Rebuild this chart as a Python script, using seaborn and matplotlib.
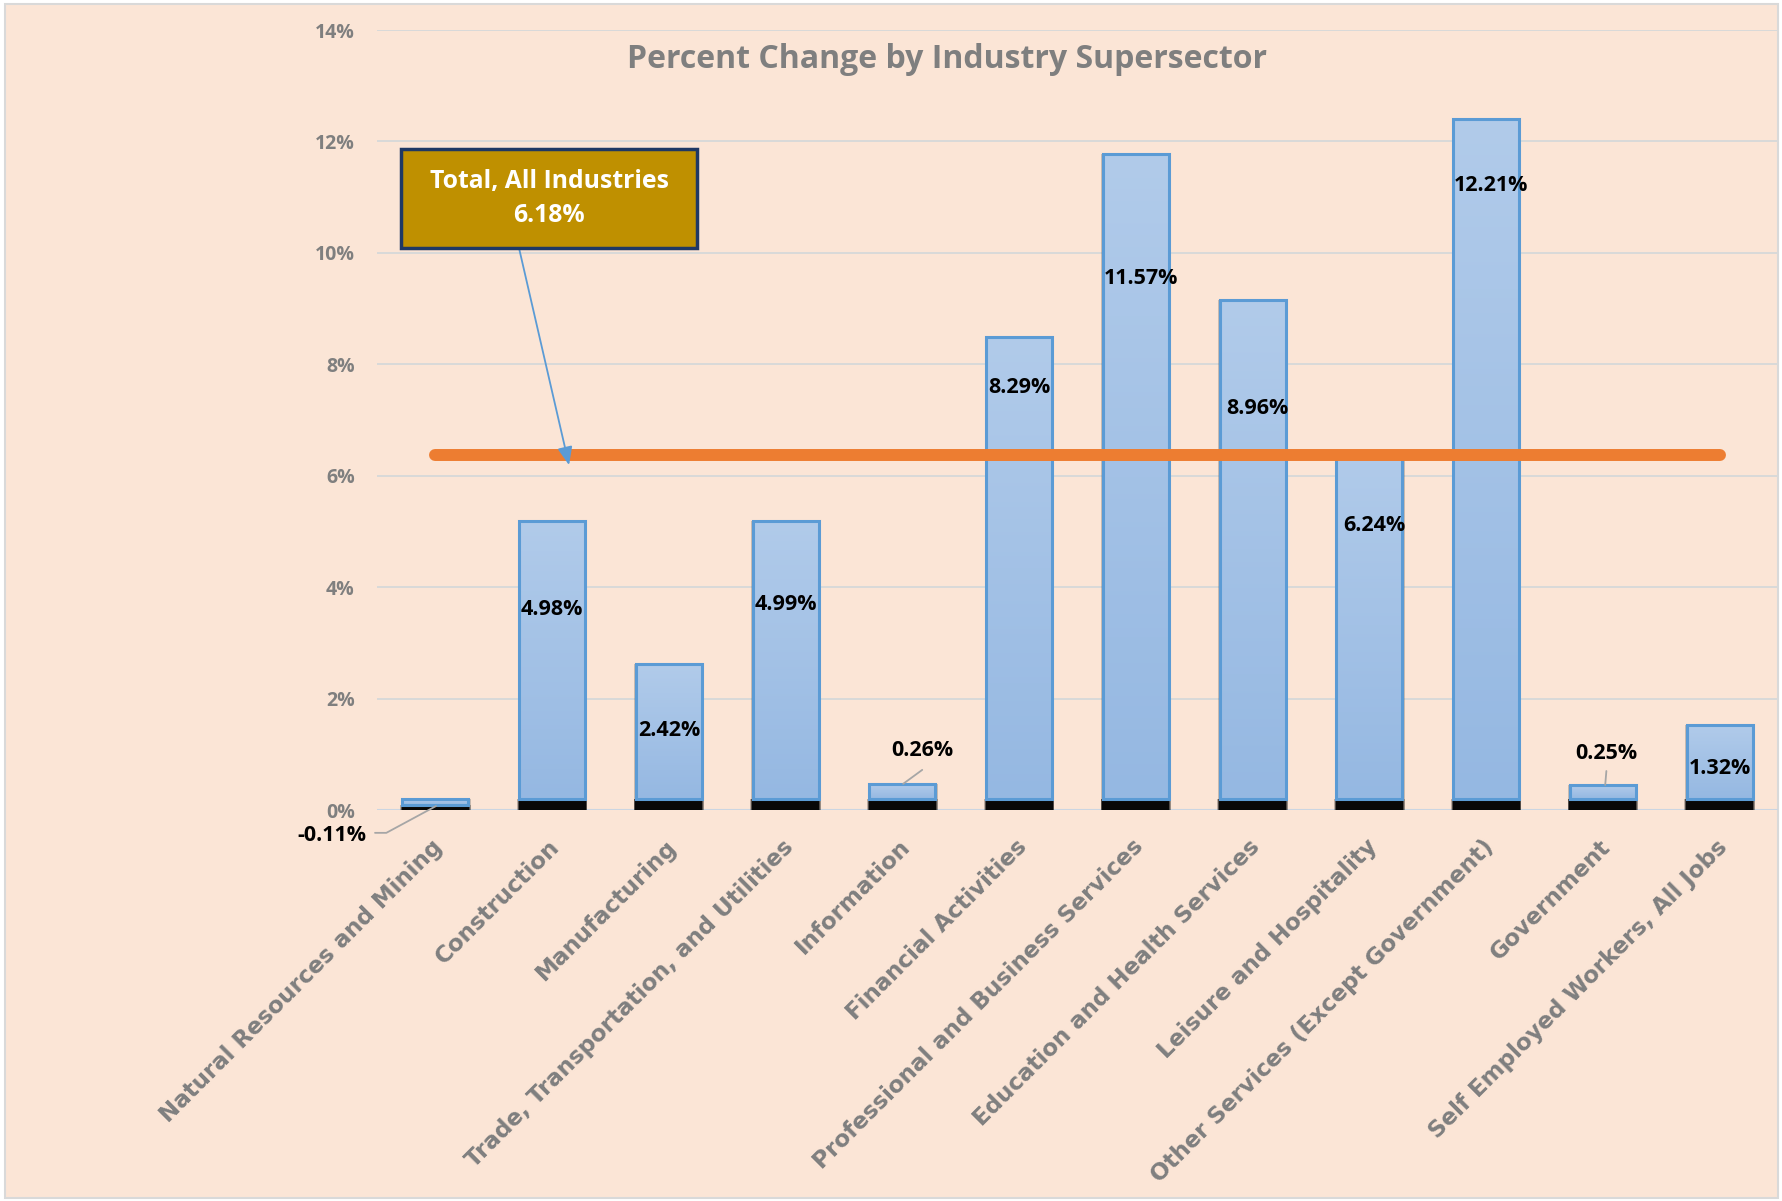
import numpy as np
import pandas as pd
import matplotlib
matplotlib.use("Agg")
import matplotlib.pyplot as plt
import seaborn as sns
from matplotlib.patches import Rectangle
from matplotlib.transforms import ScaledTranslation

# ---------------- data ----------------
categories = [
    "Natural Resources and Mining",
    "Construction",
    "Manufacturing",
    "Trade, Transportation, and Utilities",
    "Information",
    "Financial Activities",
    "Professional and Business Services",
    "Education and Health Services",
    "Leisure and Hospitality",
    "Other Services (Except Government)",
    "Government",
    "Self Employed Workers, All Jobs",
]
values = [-0.11, 4.98, 2.42, 4.99, 0.26, 8.29, 11.57, 8.96, 6.24, 12.21, 0.25, 1.32]
total_name = "Total, All Industries"
total_value = 6.18
y_ticks = [0, 2, 4, 6, 8, 10, 12, 14]
title = "Percent Change by Industry Supersector"

# ---------------- layout (label placement, not data) ----------------
label_y = [-0.45, 3.59, 1.43, 3.69, 1.06, 7.58, 9.54, 7.21, 5.11, 11.21, 1.02, 0.75]
label_dx = [-0.886, 0, 0, 0, 0.17, 0, 0.04, 0.04, 0.04, 0.04, 0.03, 0]
OFFSET = 0.2          # 3-D shadow lift of the Excel bars
BG = "#FBE5D6"
GRAY = "#7F7F7F"

sns.set_style("white")
plt.rcParams["font.family"] = ["Open Sans", "DejaVu Sans"]

fig = plt.figure(figsize=(17.82, 12.01), dpi=100, facecolor="white")
fig.patches.append(Rectangle((5 / 1782, 3 / 1201), 1773 / 1782, 1194 / 1201,
                             transform=fig.transFigure, facecolor=BG,
                             edgecolor="#D9D9D9", lw=1.5, zorder=-10))
ax = fig.add_axes([377 / 1782, 1 - 810 / 1201, (1778 - 377) / 1782, 780 / 1201])
ax.set_facecolor("none")

df = pd.DataFrame({"sector": categories, "pct": values})

# main bars (lifted by the shadow offset)
sns.barplot(data=df, x="sector", y="pct", order=categories, ax=ax,
            width=0.565, facecolor="none", edgecolor="#5B9BD5", linewidth=2.2,
            bottom=OFFSET, zorder=4)
bars = list(ax.patches)

# shadows + gradient fill
grad = np.linspace(0, 1, 256).reshape(-1, 1)
cmap = matplotlib.colors.LinearSegmentedColormap.from_list("g", ["#95B8E2", "#B1CBEA"])
for p in bars:
    x0, w = p.get_x(), p.get_width()
    y0 = p.get_y()
    h = p.get_height()
    lo, hi = min(y0, y0 + h), max(y0, y0 + h)
    # soft side shadow
    ax.add_patch(Rectangle((x0 - 0.014, 0), w + 0.034, hi, facecolor="#5A5A5A",
                           alpha=0.3, lw=0, zorder=2))
    # black base shadow (blurred look)
    for k, a in enumerate([0.25, 0.45, 0.9]):
        e = 0.02 - 0.008 * k
        ax.add_patch(Rectangle((x0 - e, 0), w + 2 * e, lo, facecolor="black",
                               alpha=a, lw=0, zorder=2.5))
    im = ax.imshow(grad, extent=(x0, x0 + w, lo, hi), origin="lower",
                   aspect="auto", cmap=cmap, zorder=3)
    im.set_clip_path(p)

# total line
ax.plot([0, len(categories) - 1], [total_value + OFFSET] * 2, color="#ED7D31",
        lw=8.6, solid_capstyle="round", zorder=5)

# data labels
for i, (v, ly, dx) in enumerate(zip(values, label_y, label_dx)):
    ax.text(i + dx, ly, f"{v:.2f}%", ha="center", va="center", fontsize=15.5,
            fontweight="bold", color="black", zorder=8, clip_on=False)

# leader lines for the small bars
lc = "#A6A6A6"
ax.plot([-0.517, -0.42, 0.005], [-0.41, -0.41, 0.07], color=lc, lw=1.3,
        zorder=7, clip_on=False)
ax.plot([4.17, 4.007], [0.72, 0.47], color=lc, lw=1.3, zorder=7)
ax.plot([10.03, 10.02], [0.70, 0.45], color=lc, lw=1.3, zorder=7)

# callout box
ax.add_patch(Rectangle((-0.294, 10.08), 2.536, 1.79, facecolor="#BF9000",
                       edgecolor="#1F3864", lw=2.5, zorder=8))
ax.text(0.974, 10.98, f"{total_name}\n{total_value:.2f}%", ha="center",
        va="center", fontsize=17.8, fontweight="bold", color="white",
        linespacing=1.5, zorder=9)
ax.annotate("", xy=(1.145, total_value + OFFSET - 0.19), xytext=(0.717, 10.08),
            arrowprops=dict(arrowstyle="-|>,head_length=1.1,head_width=0.45",
                            color="#5B9BD5", lw=1.3, shrinkA=0, shrinkB=0),
            zorder=7)

# axes styling
ax.set_xlim(-0.5, len(categories) - 0.5)
ax.set_ylim(0, 14)
ax.set_yticks(y_ticks)
ax.set_yticklabels([f"{t}%" for t in y_ticks])
ax.yaxis.grid(True, color="#D9D9D9", lw=1.4, zorder=0)
ax.xaxis.grid(False)
ax.set_axisbelow(True)
for s in ax.spines.values():
    s.set_visible(False)
ax.axhline(0, color="#CBD5E1", lw=1.5, zorder=1)
ax.set_xlabel("")
ax.set_ylabel("")
ax.tick_params(axis="y", length=0, pad=16, labelsize=14, labelcolor=GRAY)
for t in ax.get_yticklabels():
    t.set_fontweight("bold")
ax.tick_params(axis="x", length=0, pad=24)
ax.set_xticks(range(len(categories)))
ax.set_xticklabels(categories, rotation=45, ha="right", va="center",
                   rotation_mode="anchor", fontsize=16.6, fontweight="bold",
                   color=GRAY)
shift = ScaledTranslation(4 / 100, 0, fig.dpi_scale_trans)
for t in ax.get_xticklabels():
    t.set_fontfamily("DejaVu Sans")
    t.set_transform(t.get_transform() + shift)

fig.text(947 / 1782, 1 - 60 / 1201, title, ha="center", va="center",
         fontsize=23, fontweight="bold", color=GRAY)

fig.savefig("out.png", dpi=100, facecolor=fig.get_facecolor())
